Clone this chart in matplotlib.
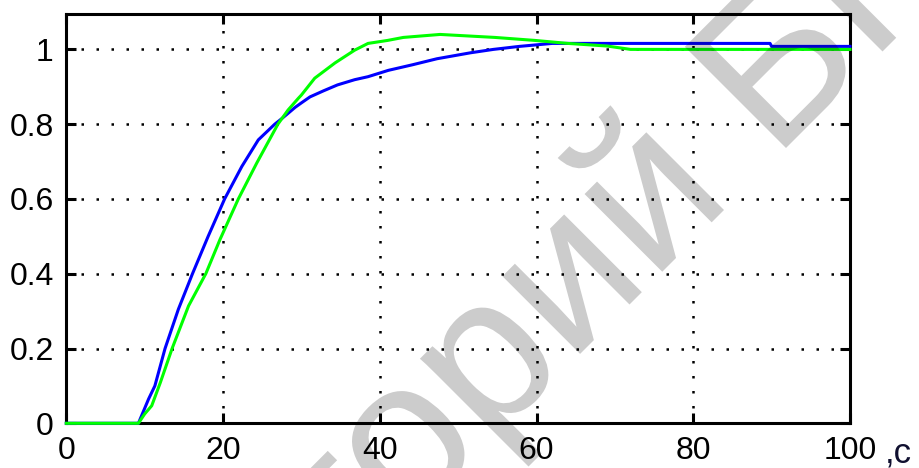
import matplotlib
matplotlib.use("Agg")
import matplotlib.pyplot as plt
from matplotlib import font_manager as fm
from matplotlib.textpath import TextPath
from matplotlib.patches import PathPatch
from matplotlib.transforms import Affine2D


def pick_family(candidates):
    for fam in candidates:
        try:
            fm.findfont(fm.FontProperties(family=fam), fallback_to_default=False)
            return fam
        except Exception:
            continue
    return "DejaVu Sans"


TICK_FAMILY = pick_family(["Liberation Sans Narrow", "Liberation Sans"])
TICK_SIZE = 26.5 if TICK_FAMILY == "Liberation Sans Narrow" else 23

# Step response of the two loops (time in seconds)
t_blue = [0, 9.2, 10.5, 11.3, 12.6, 14.3, 16.1, 18.1, 20.2, 22.4, 24.5, 26.6,
          27.5, 28.3, 29.2, 30.0, 31.1, 32.8, 34.6, 36.8, 38.5, 41.1, 44.2,
          47.3, 51.6, 54.5, 57.8, 62.0, 89.8, 90.0, 100]
y_blue = [0, 0, 0.065, 0.10, 0.20, 0.305, 0.40, 0.50, 0.60, 0.687, 0.758, 0.80,
          0.815, 0.829, 0.845, 0.857, 0.873, 0.889, 0.905, 0.919, 0.927, 0.944,
          0.959, 0.975, 0.991, 1.000, 1.008, 1.016, 1.016, 1.008, 1.008]

t_green = [0, 9.2, 10.0, 10.9, 12.0, 13.5, 15.6, 17.8, 19.6, 21.95, 24.3, 27.0,
           28.3, 29.6, 30.0, 31.7, 34.3, 36.8, 38.5, 41.0, 43.0, 47.7, 54.7,
           59.8, 64.0, 69.0, 72.0, 100]
y_green = [0, 0, 0.025, 0.047, 0.109, 0.20, 0.314, 0.40, 0.491, 0.60, 0.696,
           0.80, 0.838, 0.869, 0.878, 0.923, 0.964, 0.998, 1.016, 1.024, 1.032,
           1.040, 1.032, 1.024, 1.016, 1.009, 1.000, 1.000]

x_ticks = [0, 20, 40, 60, 80, 100]
x_labels = ["0", "20", "40", "60", "80", "100"]
y_ticks = [0, 0.2, 0.4, 0.6, 0.8, 1.0]
y_labels = ["0", "0.2", "0.4", "0.6", "0.8", "1"]

W, H = 919, 468
fig = plt.figure(figsize=(W / 100, H / 100), dpi=100, facecolor="white")
ax = fig.add_axes([66.3 / W, (H - 423.3) / H, (850 - 66.3) / W, (423.3 - 13.5) / H])

ax.plot(t_blue, y_blue, color="#0000ff", lw=2.2, zorder=3, clip_on=False)
ax.plot(t_green, y_green, color="#00ff00", lw=2.2, zorder=3.1, clip_on=False)

ax.set_xlim(0, 100)
ax.set_ylim(0, 1.096)
ax.set_xticks(x_ticks)
ax.set_xticklabels(x_labels)
ax.set_yticks(y_ticks)
ax.set_yticklabels(y_labels)

ax.grid(True, color="black", linestyle=(0, (1, 5)), linewidth=1.8)
ax.set_axisbelow(True)

for sp in ax.spines.values():
    sp.set_linewidth(2.2)
    sp.set_color("black")

ax.tick_params(direction="in", length=7.2, width=2.2, top=True, right=True,
               pad=9, labelsize=TICK_SIZE, colors="black")
for lab in ax.get_xticklabels() + ax.get_yticklabels():
    lab.set_family(TICK_FAMILY)

# Time-unit label after the last tick
fig.text(885 / W, 1 - 462.5 / H, ",с", family="Liberation Sans", fontsize=25,
         color="#101030", ha="left", va="baseline")

# Repository watermark: two word groups on one 45-degree baseline,
# positioned in display pixels (origin bottom-left)
wm_prop = fm.FontProperties(family="Liberation Sans")
wm_em = 208  # em size in pixels


def watermark(text, px, py, align):
    path = TextPath((0, 0), text, size=wm_em, prop=wm_prop)
    ext = path.get_extents()
    x_ref = ext.x0 if align == "left" else ext.x1
    tr = Affine2D().translate(-x_ref, 0).rotate_deg(45).translate(px, H - py)
    patch = PathPatch(path, transform=tr, facecolor="black", edgecolor="none",
                      alpha=0.2, zorder=10)
    fig.add_artist(patch)


watermark("БНТУ", 786, 148, "left")
watermark("Репозиторий", 724, 210, "right")

fig.savefig("out.png", dpi=100, facecolor="white")
